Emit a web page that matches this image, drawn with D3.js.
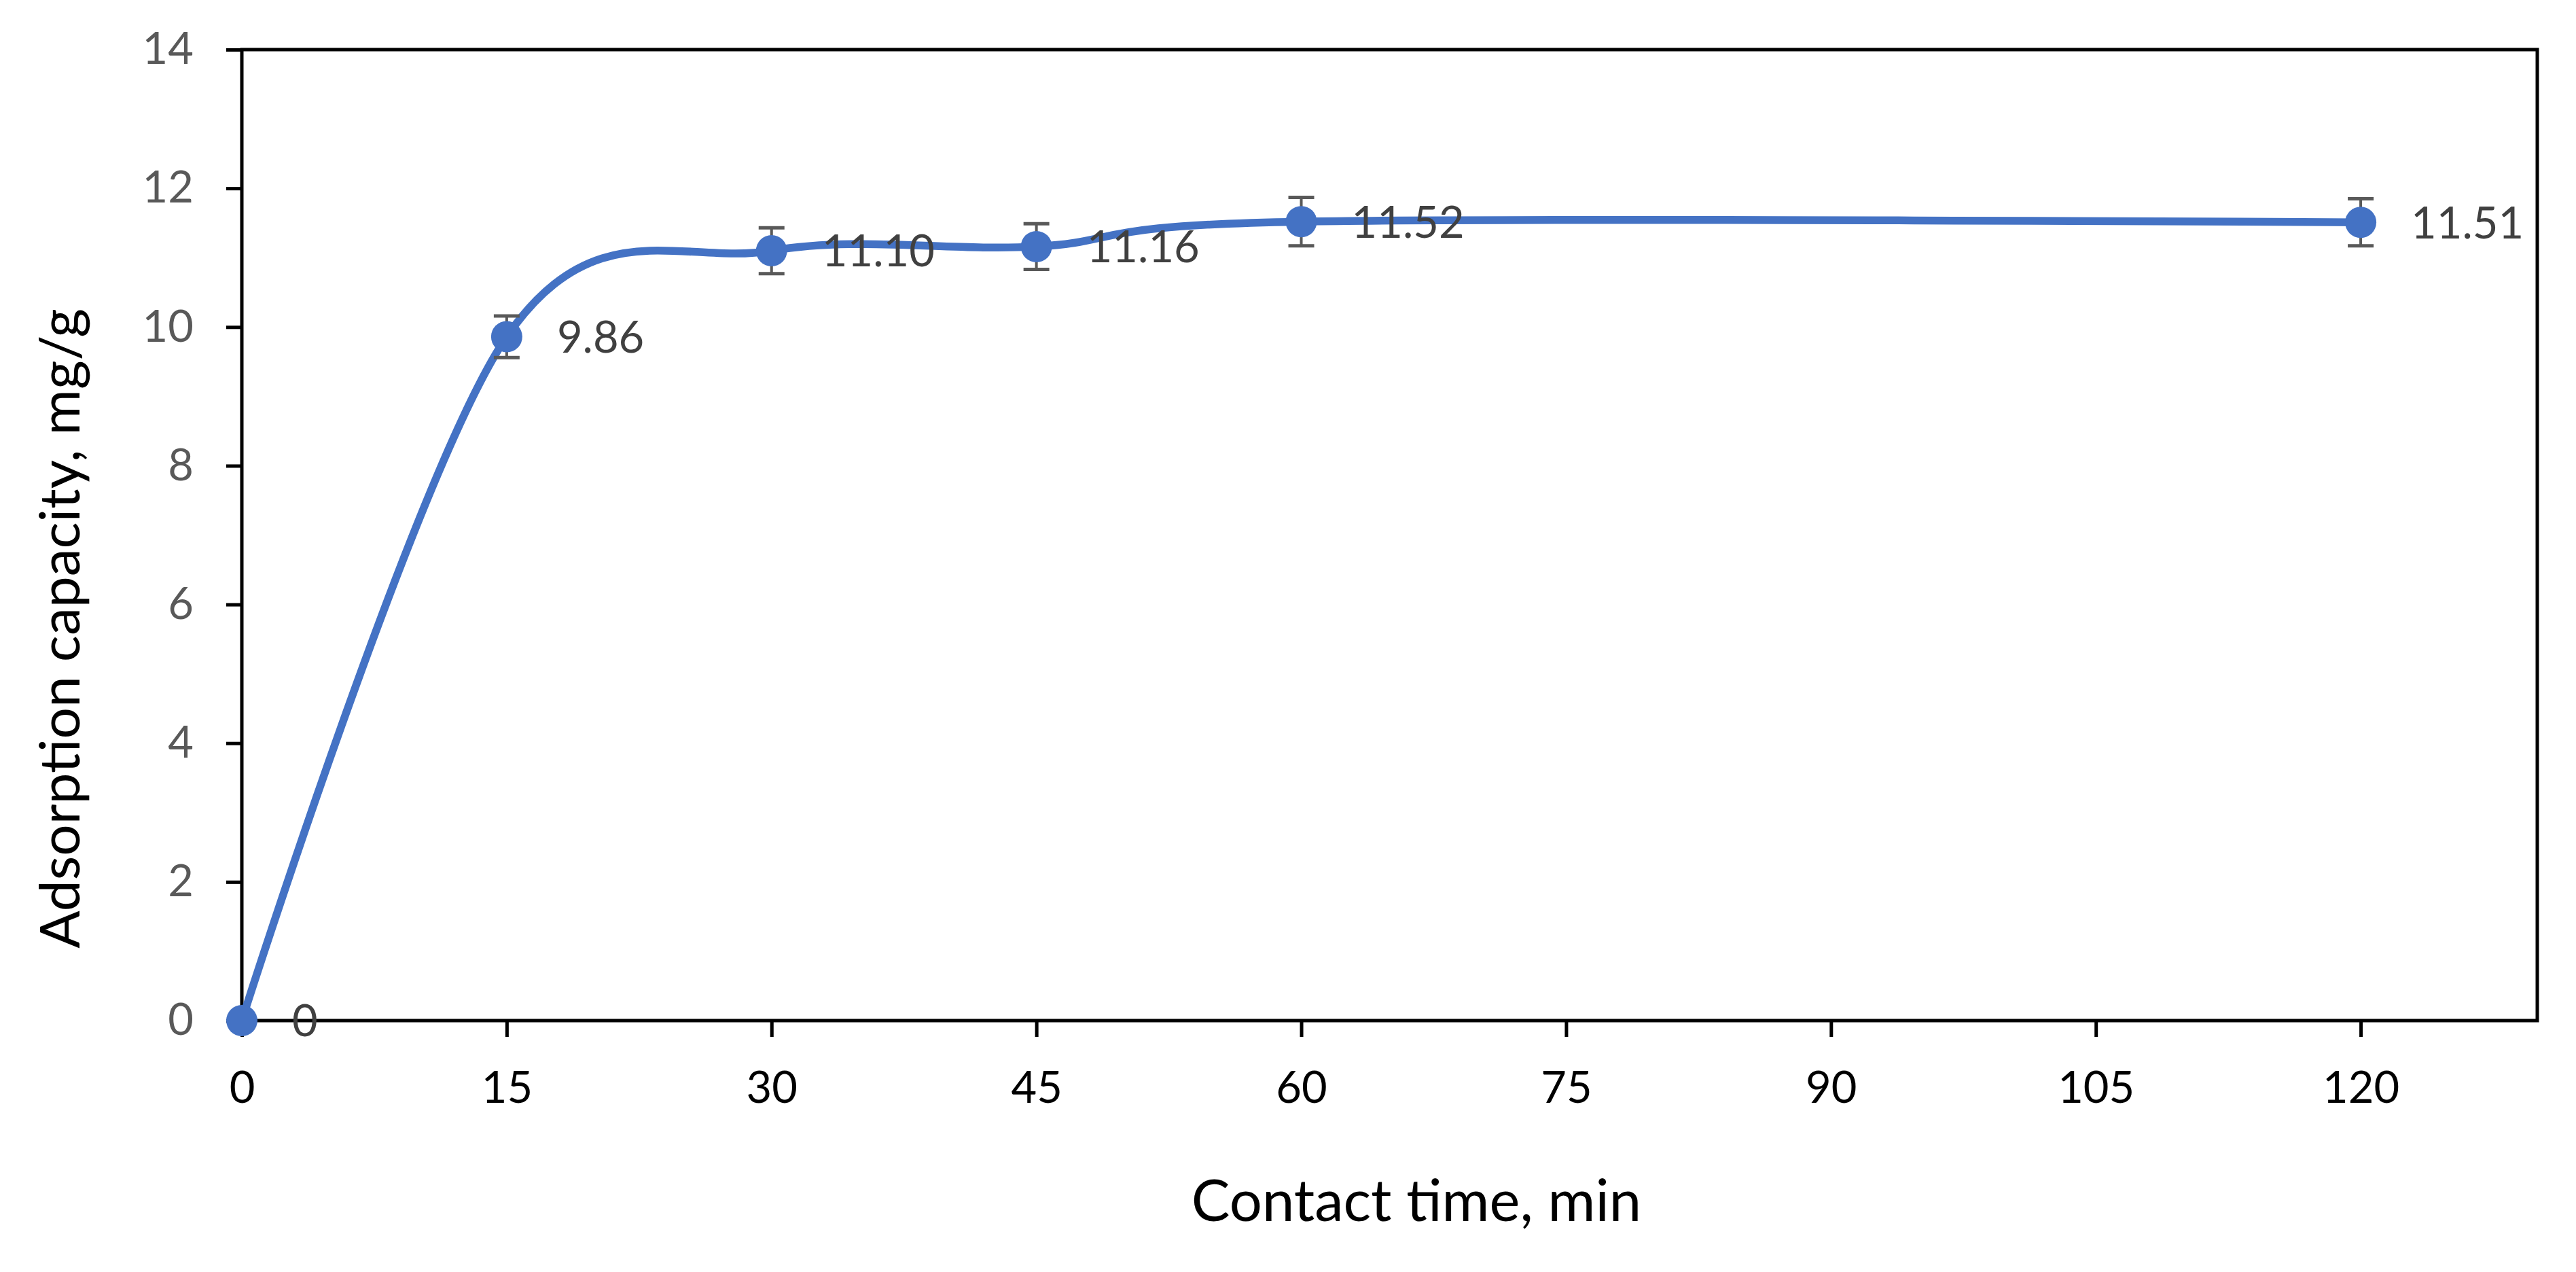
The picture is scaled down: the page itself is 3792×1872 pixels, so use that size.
<!DOCTYPE html>
<html>
<head>
<meta charset="utf-8">
<script src="https://cdn.jsdelivr.net/npm/d3@7"></script>
<style>
  html, body { margin: 0; padding: 0; background: #ffffff; }
  svg { display: block; }
</style>
</head>
<body>
<script>
// ---- Data ----
const contactTime = [0, 15, 30, 45, 60, 120];
const capacity = [0, 9.86, 11.10, 11.16, 11.52, 11.51];
const capacityError = [0, 0.30, 0.33, 0.33, 0.35, 0.34];
const dataLabels = ["0", "9.86", "11.10", "11.16", "11.52", "11.51"];
const xTicks = [0, 15, 30, 45, 60, 75, 90, 105, 120];
const yTicks = [0, 2, 4, 6, 8, 10, 12, 14];
const xTitle = "Contact time, min";
const yTitle = "Adsorption capacity, mg/g";

// ---- Layout ----
const W = 3792, H = 1872;
const margin = { left: 356, top: 73, right: W - 3735, bottom: H - 1502 };
const innerW = W - margin.left - margin.right;
const innerH = H - margin.top - margin.bottom;
const font = "Lato, 'Open Sans', sans-serif";
const blue = "#4472C4";

const svg = d3.select("body").append("svg")
  .attr("width", W).attr("height", H)
  .style("background", "#fff");

const g = svg.append("g").attr("transform", `translate(${margin.left},${margin.top})`);

const x = d3.scaleLinear().domain([0, 130]).range([0, innerW]);
const y = d3.scaleLinear().domain([0, 14]).range([innerH, 0]);

// Axes
const yAxis = g.append("g")
  .call(d3.axisLeft(y).tickValues(yTicks).tickSize(23).tickPadding(48).tickSizeOuter(0));
yAxis.selectAll("line").attr("stroke", "#000").attr("stroke-width", 5);
yAxis.select(".domain").remove();
yAxis.selectAll("text").attr("fill", "#595959").style("font-family", font).style("font-size", "65px");

const xAxis = g.append("g").attr("transform", `translate(0,${innerH})`)
  .call(d3.axisBottom(x).tickValues(xTicks).tickSize(24).tickPadding(51).tickSizeOuter(0));
xAxis.selectAll("line").attr("stroke", "#000").attr("stroke-width", 5);
xAxis.select(".domain").remove();
xAxis.selectAll("text").attr("fill", "#000").style("font-family", font).style("font-size", "65px");

// Plot frame
g.append("rect")
  .attr("x", 0).attr("y", 0).attr("width", innerW).attr("height", innerH)
  .attr("fill", "none").attr("stroke", "#000").attr("stroke-width", 5);

const pts = contactTime.map((t, i) => ({ t, v: capacity[i], e: capacityError[i], label: dataLabels[i] }));

// Smoothed line
const line = d3.line()
  .x(d => x(d.t)).y(d => y(d.v))
  .curve(d3.curveCardinal.tension(0));
g.append("path").datum(pts)
  .attr("d", line)
  .attr("fill", "none").attr("stroke", blue).attr("stroke-width", 11.5)
  .attr("stroke-linecap", "round").attr("stroke-linejoin", "round");

// Error bars
const eb = g.append("g").selectAll("g").data(pts.filter(d => d.e > 0)).join("g")
  .attr("stroke", "#595959");
eb.append("line")
  .attr("x1", d => x(d.t)).attr("x2", d => x(d.t))
  .attr("y1", d => y(d.v + d.e)).attr("y2", d => y(d.v - d.e))
  .attr("stroke-width", 4);
eb.append("line")
  .attr("x1", d => x(d.t) - 19).attr("x2", d => x(d.t) + 19)
  .attr("y1", d => y(d.v + d.e)).attr("y2", d => y(d.v + d.e))
  .attr("stroke-width", 5);
eb.append("line")
  .attr("x1", d => x(d.t) - 19).attr("x2", d => x(d.t) + 19)
  .attr("y1", d => y(d.v - d.e)).attr("y2", d => y(d.v - d.e))
  .attr("stroke-width", 5);

// Markers
g.append("g").selectAll("circle").data(pts).join("circle")
  .attr("cx", d => x(d.t)).attr("cy", d => y(d.v)).attr("r", 23)
  .attr("fill", blue);

// Data labels
g.append("g").selectAll("text").data(pts).join("text")
  .attr("x", d => x(d.t) + 74).attr("y", d => y(d.v))
  .attr("dy", "0.36em")
  .attr("fill", "#404040")
  .style("font-family", font).style("font-size", "65px")
  .text(d => d.label);

// Axis titles
svg.append("text")
  .attr("x", 2085).attr("y", 1797)
  .attr("text-anchor", "middle")
  .attr("fill", "#000")
  .style("font-family", font).style("font-size", "85px")
  .text(xTitle);

svg.append("text")
  .attr("transform", "translate(117,925) rotate(-90)")
  .attr("text-anchor", "middle")
  .attr("fill", "#000")
  .style("font-family", font).style("font-size", "82px")
  .text(yTitle);
</script>
</body>
</html>
